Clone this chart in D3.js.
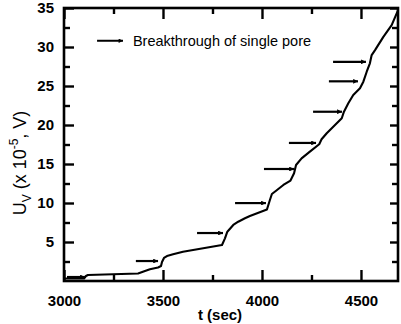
<!DOCTYPE html>
<html>
<head>
<meta charset="utf-8">
<script src="https://cdn.jsdelivr.net/npm/d3@7"></script>
<style>
  body { margin: 0; background: #fff; }
  svg text { font-family: "Liberation Sans", Arial, Helvetica, sans-serif; fill: #000; }
</style>
</head>
<body>
<div id="plot-container"></div>
<script>
// curve
const time = [3000, 3101, 3111, 3121, 3374, 3409, 3434, 3475, 3490, 3495, 3505, 3520, 3551, 3601,
    3798, 3813, 3825, 3855, 3880, 3914, 3939, 4025, 4040, 4050, 4076, 4108, 4144, 4162, 4172,
    4200, 4242, 4289, 4301, 4327, 4360, 4403, 4414, 4436, 4461, 4495, 4512, 4529, 4545, 4554,
    4571, 4613, 4655, 4687];
const voltage = [0.32, 0.32, 0.64, 0.77, 0.96, 1.28, 1.5, 1.73, 1.92, 2.44, 2.95, 3.2, 3.42, 3.76,
    4.62, 5.47, 6.32, 7.18, 7.6, 8.04, 8.33, 9.17, 10.38, 11.15, 11.67, 12.31, 12.88, 13.81, 14.87,
    15.73, 16.58, 17.53, 18.17, 18.94, 19.78, 20.86, 21.71, 22.78, 23.85, 24.71, 25.55, 26.83, 27.91, 28.97,
    29.6, 31.3, 32.8, 34.7];

// breakthrough arrows
const arrowStart = [3015, 3363, 3672, 3864, 4010, 4136, 4258, 4338, 4359];
const arrowEnd = [3106, 3475, 3803, 4020, 4162, 4273, 4404, 4485, 4525];
const arrowLevel = [0.51, 2.56, 6.15, 9.99, 14.36, 17.7, 21.7, 25.6, 28.1];

const xTicks = [3000, 3500, 4000, 4500];
const xMinor = [3250, 3750, 4250];
const yTicks = [5, 10, 15, 20, 25, 30, 35];
const yMinor = [2.5, 7.5, 12.5, 17.5, 22.5, 27.5, 32.5];

const legendText = "Breakthrough of single pore";
const xLabel = "t (sec)";

const W = 401, H = 324;
const plot = {left: 64, right: 398, top: 8, bottom: 281};

const svg = d3.select("#plot-container")
  .append("svg")
    .attr("width", W)
    .attr("height", H);

const x = d3.scaleLinear().domain([3000, 4687]).range([plot.left, plot.right]);
const y = d3.scaleLinear().domain([0, 35]).range([plot.bottom, plot.top]);

svg.append("defs").append("marker")
    .attr("id", "head")
    .attr("viewBox", "0 0 10 10")
    .attr("refX", 10).attr("refY", 5)
    .attr("markerWidth", 3.4).attr("markerHeight", 2.2)
    .attr("markerUnits", "strokeWidth")
    .attr("orient", "auto")
  .append("path")
    .attr("d", "M0,0L10,5L0,10z")
    .attr("fill", "#000");

function add_axis(axis, transform, labels){
    const g = svg.append("g")
        .attr("transform", transform)
        .call(axis);
    g.select(".domain").remove();
    g.selectAll("line").attr("stroke", "#000").attr("stroke-width", 2.4);
    g.selectAll("text")
        .style("font-size", "15px")
        .style("font-weight", "bold");
    if (!labels) g.selectAll("text").remove();
    return g;
}

// major and minor ticks on all four sides, pointing inward
add_axis(d3.axisBottom(x).tickValues(xTicks).tickSize(-11).tickPadding(14).tickFormat(d3.format("d")),
    `translate(0,${plot.bottom})`, true);
add_axis(d3.axisBottom(x).tickValues(xMinor).tickSize(-6), `translate(0,${plot.bottom})`, false);
add_axis(d3.axisTop(x).tickValues(xTicks).tickSize(-11), `translate(0,${plot.top})`, false);
add_axis(d3.axisTop(x).tickValues(xMinor).tickSize(-6), `translate(0,${plot.top})`, false);

add_axis(d3.axisLeft(y).tickValues(yTicks).tickSize(-10).tickPadding(10),
    `translate(${plot.left},0)`, true);
add_axis(d3.axisLeft(y).tickValues(yMinor).tickSize(-6), `translate(${plot.left},0)`, false);
add_axis(d3.axisRight(y).tickValues(yTicks).tickSize(-8), `translate(${plot.right},0)`, false);
add_axis(d3.axisRight(y).tickValues(yMinor).tickSize(-6), `translate(${plot.right},0)`, false);

svg.append("rect")
    .attr("x", plot.left)
    .attr("y", plot.top)
    .attr("width", plot.right - plot.left)
    .attr("height", plot.bottom - plot.top)
    .attr("fill", "none")
    .attr("stroke", "#000")
    .attr("stroke-width", 2.6);

const line = d3.line()
    .x(i => x(time[i]))
    .y(i => y(voltage[i]))
    .curve(d3.curveLinear);

svg.append("path")
    .attr("d", line(d3.range(time.length)))
    .attr("fill", "none")
    .attr("stroke", "#000")
    .attr("stroke-width", 2.1)
    .attr("stroke-linejoin", "round");

svg.selectAll(".arrow")
    .data(d3.range(arrowStart.length))
    .enter()
    .append("line")
    .attr("class", "arrow")
    .attr("x1", i => x(arrowStart[i]))
    .attr("x2", i => x(arrowEnd[i]))
    .attr("y1", i => y(arrowLevel[i]))
    .attr("y2", i => y(arrowLevel[i]))
    .attr("stroke", "#000")
    .attr("stroke-width", 2.2)
    .attr("marker-end", "url(#head)");

// legend
svg.append("line")
    .attr("x1", x(3167)).attr("x2", x(3298))
    .attr("y1", y(30.8)).attr("y2", y(30.8))
    .attr("stroke", "#000")
    .attr("stroke-width", 2)
    .attr("marker-end", "url(#head)");

svg.append("text")
    .attr("x", x(3348))
    .attr("y", y(30.8) + 5)
    .style("font-size", "14.5px")
    .text(legendText);

// axis labels
svg.append("text")
    .attr("x", 220)
    .attr("y", 320)
    .attr("text-anchor", "middle")
    .style("font-size", "15px")
    .style("font-weight", "bold")
    .text(xLabel);

const ylab = svg.append("text")
    .attr("transform", "translate(26,163) rotate(-90)")
    .attr("text-anchor", "middle")
    .style("font-size", "18px");
ylab.append("tspan").text("U");
ylab.append("tspan").attr("dy", 5).style("font-size", "12px").text("V");
ylab.append("tspan").attr("dy", -5).text(" (x 10");
ylab.append("tspan").attr("dy", -8).style("font-size", "12px").text("-5");
ylab.append("tspan").attr("dy", 8).text(", V)");
</script>
</body>
</html>
